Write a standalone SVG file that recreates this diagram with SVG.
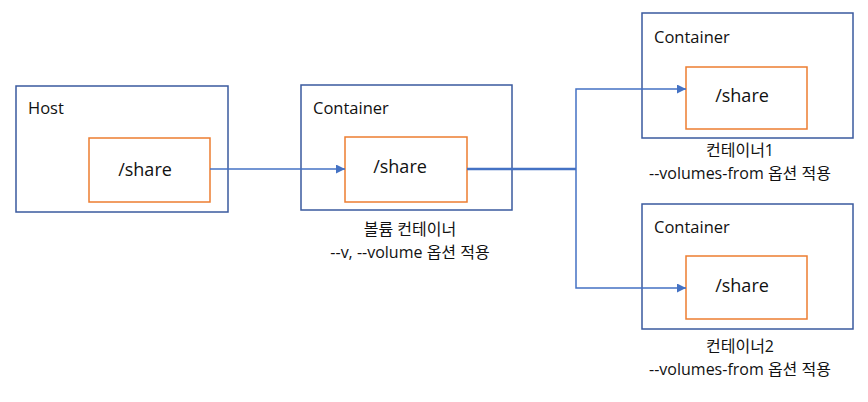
<svg xmlns="http://www.w3.org/2000/svg" width="868" height="402" viewBox="0 0 868 402">
<defs>
<style>
.outer{fill:#fff;stroke:#3A5A9E;stroke-width:1.5}
.inner{fill:#fff;stroke:#ED7D31;stroke-width:1.5}
.title{font-family:"Open Sans","Noto Sans",sans-serif;font-size:16.5px;fill:#111}
.share{font-family:"Open Sans","Noto Sans",sans-serif;font-size:18px;fill:#111;text-anchor:middle}
.lbl{font-family:"Open Sans","Noto Sans CJK KR",sans-serif;font-size:16px;fill:#111;text-anchor:middle}
.conn{fill:none;stroke:#4472C4;stroke-width:1.5}
</style>
<marker id="ah" viewBox="0 0 10 10" refX="10" refY="5" markerWidth="9" markerHeight="9" orient="auto" markerUnits="userSpaceOnUse">
<path d="M0,0 L10,5 L0,10 z" fill="#4472C4"/>
</marker>
</defs>
<rect width="868" height="402" fill="#fff"/>
<g id="host">
<rect class="outer" x="16" y="86" width="212" height="126"/>
<text class="title" x="28" y="114">Host</text>
<rect class="inner" x="89" y="138" width="121" height="64"/>
<text class="share" x="145" y="176">/share</text>
</g>
<g id="volume-container">
<rect class="outer" x="301" y="85" width="211" height="125"/>
<text class="title" x="313" y="114">Container</text>
<rect class="inner" x="345" y="137" width="122" height="65"/>
<text class="share" x="400" y="173">/share</text>
<text class="lbl" x="410" y="235">볼륨 컨테이너</text>
<text class="lbl" x="410" y="258">--v, --volume 옵션 적용</text>
</g>
<g id="container1">
<rect class="outer" x="642" y="13" width="211" height="125"/>
<text class="title" x="654" y="43">Container</text>
<rect class="inner" x="686" y="67" width="121" height="62"/>
<text class="share" x="742" y="102">/share</text>
<text class="lbl" x="740" y="156">컨테이너1</text>
<text class="lbl" x="740" y="179">--volumes-from 옵션 적용</text>
</g>
<g id="container2">
<rect class="outer" x="642" y="204" width="211" height="125"/>
<text class="title" x="654" y="233">Container</text>
<rect class="inner" x="686" y="256" width="121" height="63"/>
<text class="share" x="742" y="292">/share</text>
<text class="lbl" x="740" y="352">컨테이너2</text>
<text class="lbl" x="740" y="375">--volumes-from 옵션 적용</text>
</g>
<g id="connectors">
<line class="conn" x1="210" y1="169" x2="345" y2="169" marker-end="url(#ah)"/>
<line class="conn" x1="467" y1="169" x2="576" y2="169" style="stroke-width:2.5"/>
<polyline class="conn" points="576,169 576,89 686,89" marker-end="url(#ah)"/>
<polyline class="conn" points="576,169 576,288 686,288" marker-end="url(#ah)"/>
</g>
</svg>
